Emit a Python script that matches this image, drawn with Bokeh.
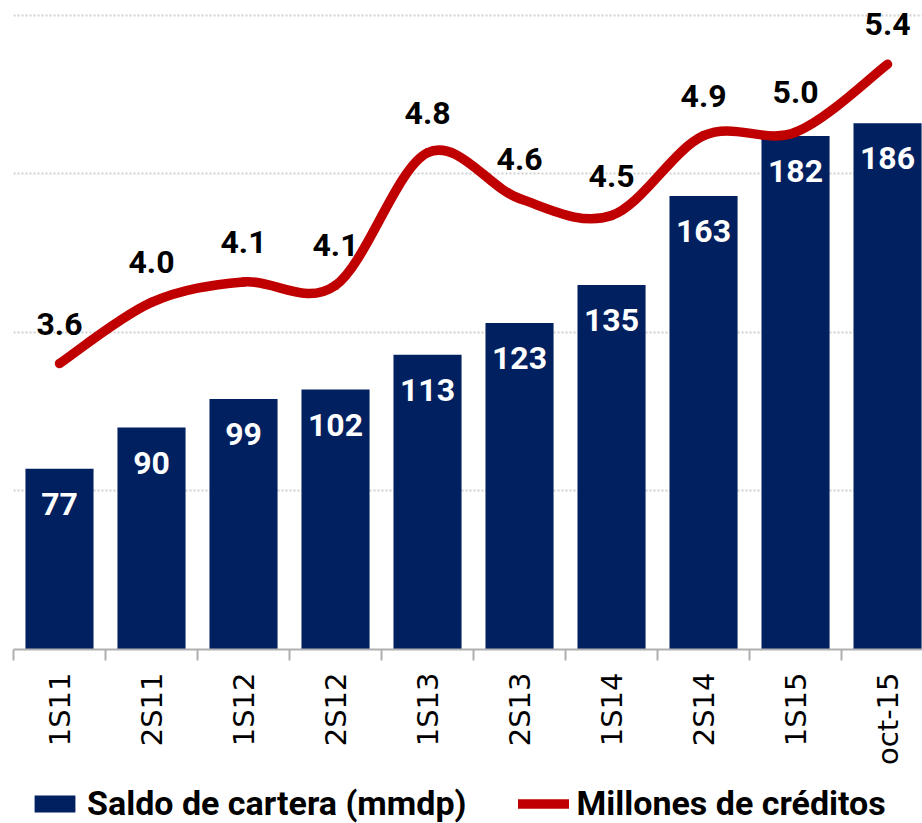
import math
from bokeh.plotting import figure
from bokeh.layouts import column
from bokeh.models import (Range1d, LinearAxis, FixedTicker, Grid, Legend, LegendItem)
from bokeh.core.properties import value
from bokeh.embed import file_html
from bokeh.resources import INLINE

# ---- data ----
categories = ["1S11", "2S11", "1S12", "2S12", "1S13", "2S13", "1S14", "2S14", "1S15", "oct-15"]
saldo = [77, 90, 99, 102, 113, 123, 135, 163, 182, 186]
creditos = [3.60, 3.96, 4.08, 4.06, 4.84, 4.57, 4.47, 4.94, 4.96, 5.36]
grid_values = [70, 120, 170, 220]

BAR_COLOR = "#002060"
LINE_COLOR = "#C00000"
FONT = value("Roboto")

n = len(categories)
xc = [i + 0.5 for i in range(n)]

p = figure(width=922, height=772, output_backend="svg", toolbar_location=None,
           x_range=Range1d(0, 9.88), y_range=Range1d(20, 224.7),
           x_axis_location=None, y_axis_location=None,
           min_border_left=13, min_border_right=0, min_border_top=0, min_border_bottom=123)
p.outline_line_color = None
p.background_fill_color = "white"
for g in list(p.grid):
    g.visible = False

p.extra_y_ranges = {"line": Range1d(1.918, 5.735)}

# grid
p.add_layout(Grid(dimension=1, ticker=FixedTicker(ticks=grid_values),
                  grid_line_color="#D0D0D0", grid_line_width=2, grid_line_dash="2 2"))

# bars
bars = p.vbar(x=xc, top=saldo, bottom=0, width=0.74, fill_color=BAR_COLOR, line_color=None)
p.text(x=xc, y=saldo, text=[str(v) for v in saldo], text_color="white",
       text_font=FONT, text_font_style="bold", text_font_size="32px",
       text_align="center", text_baseline="alphabetic", y_offset=35)

# smoothed line (cubic Bezier through the data points)
x0s, y0s, x1s, y1s, cx0, cy0, cx1, cy1 = [], [], [], [], [], [], [], []
for i in range(n - 1):
    ip = max(i - 1, 0)
    inx = min(i + 2, n - 1)
    x0s.append(xc[i]); y0s.append(creditos[i])
    x1s.append(xc[i + 1]); y1s.append(creditos[i + 1])
    cx0.append(xc[i] + (xc[i + 1] - xc[ip]) / 6)
    cy0.append(creditos[i] + (creditos[i + 1] - creditos[ip]) / 6)
    cx1.append(xc[i + 1] - (xc[inx] - xc[i]) / 6)
    cy1.append(creditos[i + 1] - (creditos[inx] - creditos[i]) / 6)
p.bezier(x0=x0s, y0=y0s, x1=x1s, y1=y1s, cx0=cx0, cy0=cy0, cx1=cx1, cy1=cy1,
         line_color=LINE_COLOR, line_width=9.5, line_cap="round", y_range_name="line")
p.text(x=xc, y=creditos, text=[f"{v:.1f}" for v in creditos], text_color="black",
       text_font=FONT, text_font_style="bold", text_font_size="32px",
       text_align="center", text_baseline="alphabetic", y_offset=-40, y_range_name="line")

# x axis
xaxis = LinearAxis(ticker=FixedTicker(ticks=xc, minor_ticks=list(range(n + 1))),
                   major_label_overrides={x: c for x, c in zip(xc, categories)})
xaxis.axis_line_color = "#B0B0B0"
xaxis.axis_line_width = 2
xaxis.major_tick_line_color = None
xaxis.minor_tick_line_color = "#B0B0B0"
xaxis.minor_tick_line_width = 2
xaxis.minor_tick_in = 0
xaxis.minor_tick_out = 11
xaxis.major_label_orientation = math.pi / 2
xaxis.major_label_text_font = "DejaVu Sans"
xaxis.major_label_text_font_size = "29px"
xaxis.major_label_text_color = "black"
xaxis.major_label_standoff = 12
p.add_layout(xaxis, "below")

# legend strip (same series drawn out of view; only the legend swatches show)
lg = figure(width=922, height=51, output_backend="svg", toolbar_location=None,
            x_range=Range1d(0, 9.88), y_range=Range1d(1000, 1001),
            x_axis_location=None, y_axis_location=None,
            min_border_left=0, min_border_right=0, min_border_top=0, min_border_bottom=0)
lg.outline_line_color = None
for g in list(lg.grid):
    g.visible = False
lbar = lg.vbar(x=xc, top=saldo, bottom=0, width=0.74, fill_color=BAR_COLOR, line_color=None)
lline = lg.line(x=xc, y=creditos, line_color=LINE_COLOR, line_width=9.5, line_cap="round")

legend = Legend(items=[LegendItem(label="Saldo de cartera (mmdp)", renderers=[lbar]),
                       LegendItem(label="Millones de créditos", renderers=[lline])],
                orientation="horizontal", location=(16, 0),
                glyph_width=51, glyph_height=21, label_standoff=7, spacing=52,
                padding=0, margin=0, border_line_color=None, background_fill_alpha=0,
                label_text_font="Roboto", label_text_font_style="bold",
                label_text_font_size="34px", label_text_color="black")
lg.add_layout(legend, "center")

layout = column(p, lg, spacing=0)
open("out.html", "w").write(file_html(layout, INLINE))
